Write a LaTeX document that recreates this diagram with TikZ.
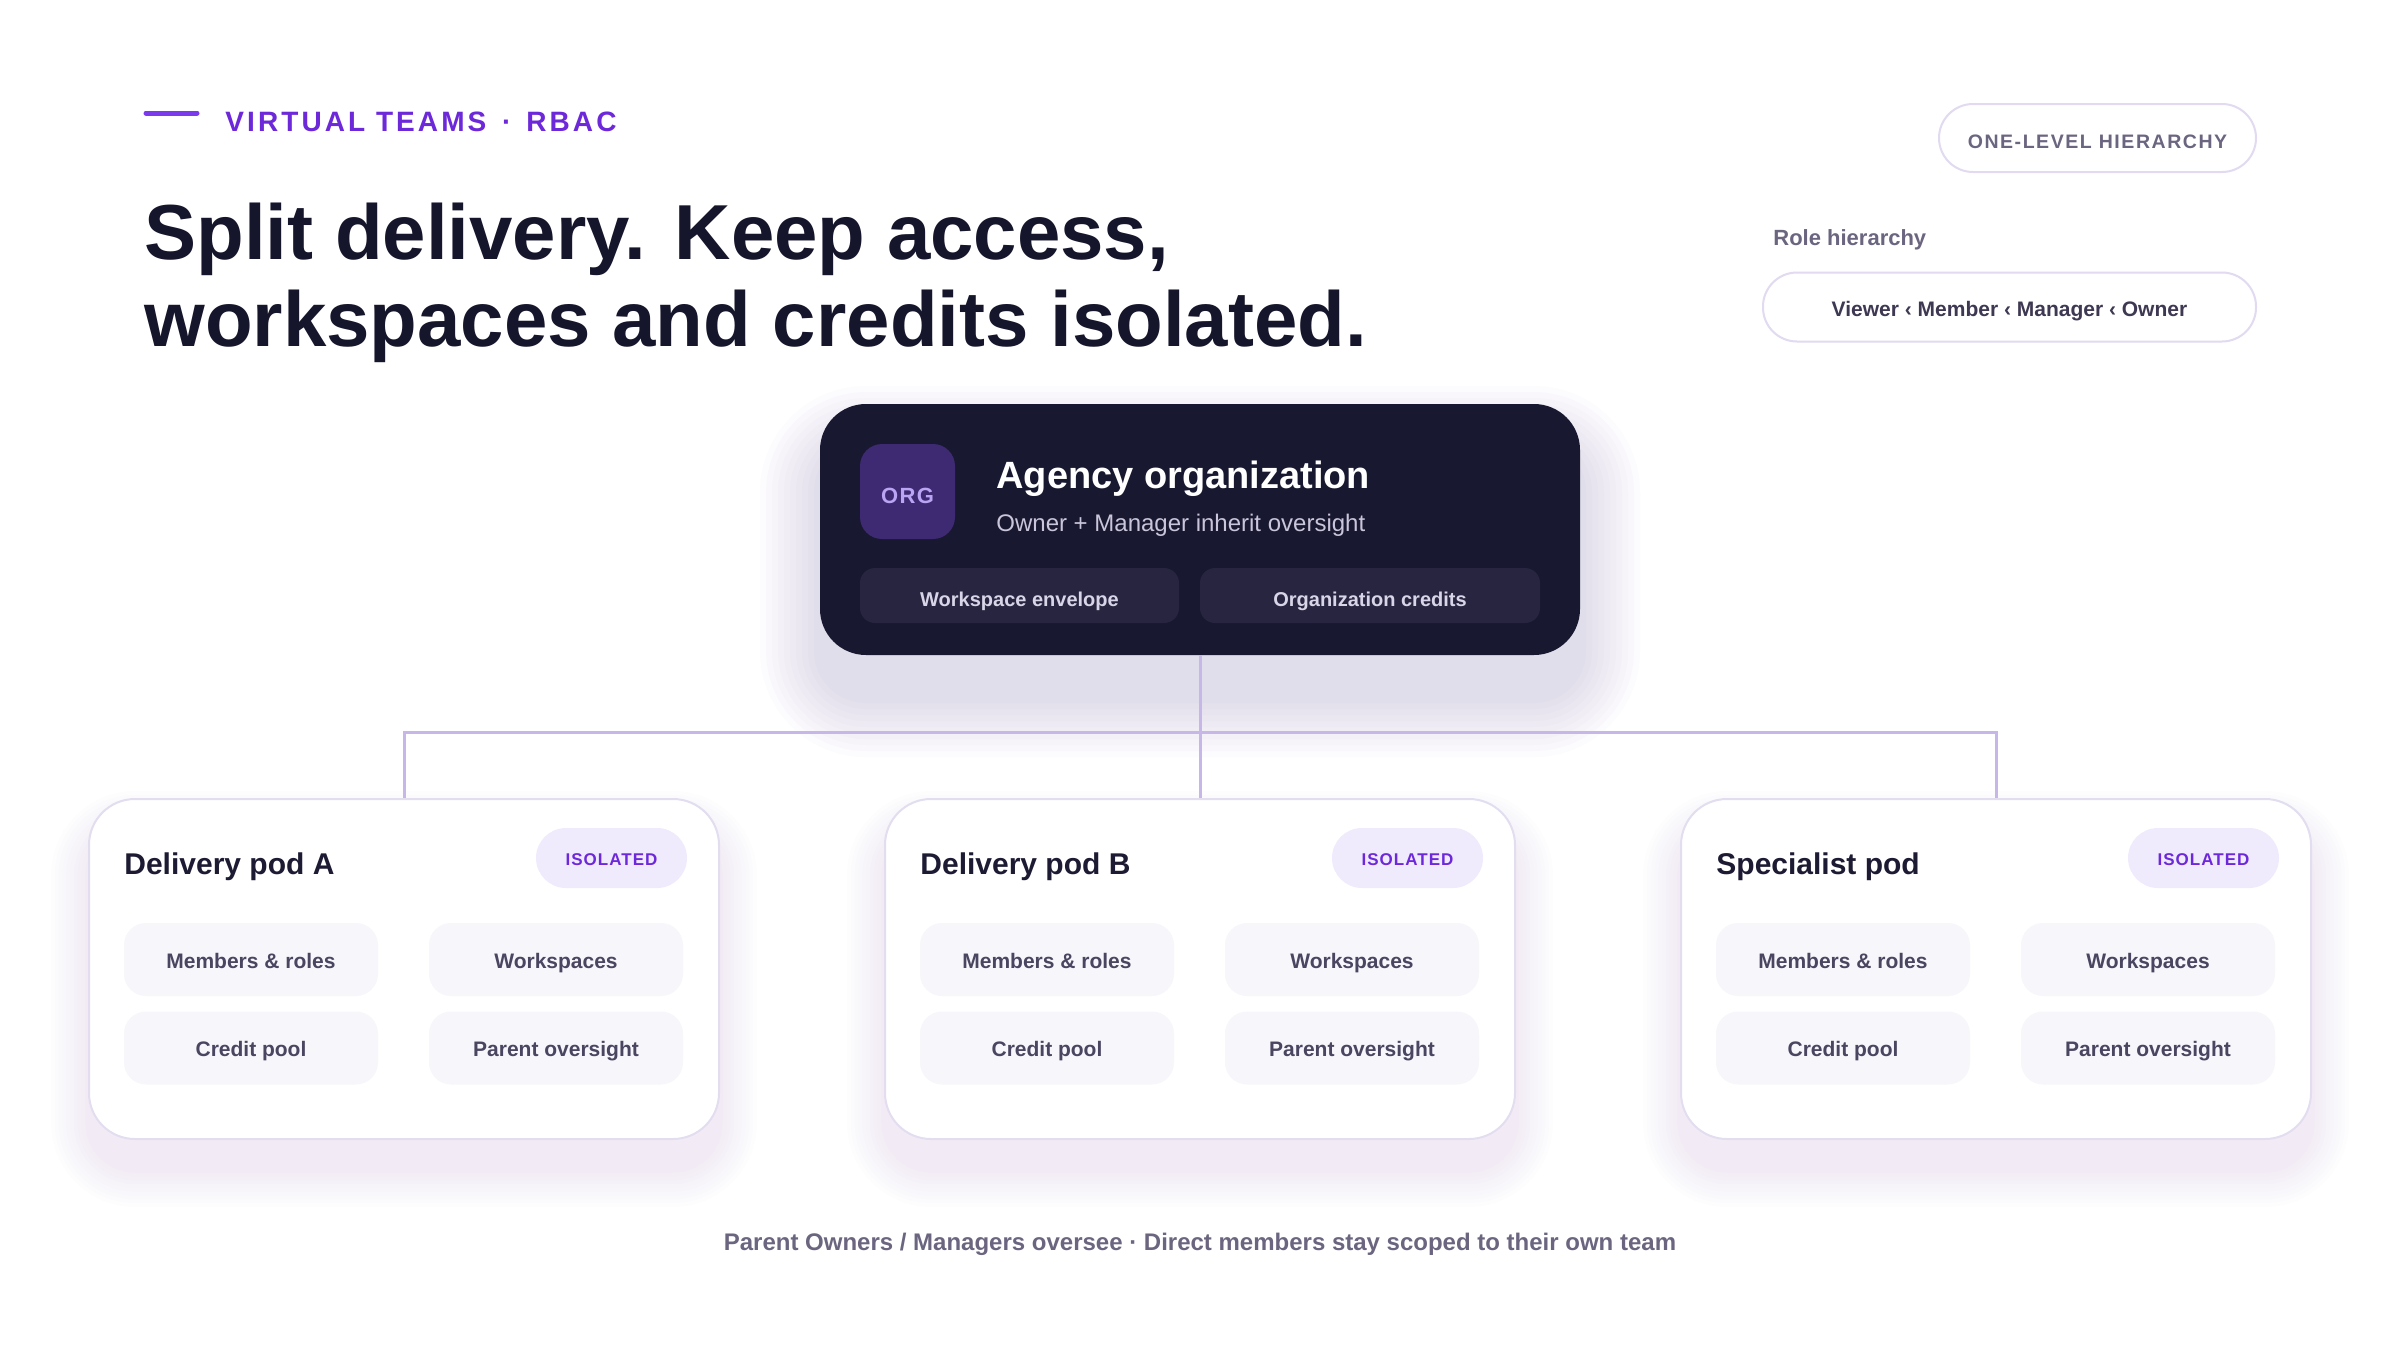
\documentclass[tikz,border=0pt]{standalone}
\usepackage{fontspec}
\setmainfont{Liberation Sans}
\newfontfamily\kickerfont[LetterSpace=11]{Liberation Sans}
\newfontfamily\lsmid[LetterSpace=8]{Liberation Sans}
\newfontfamily\lssmall[LetterSpace=6]{Liberation Sans}
\definecolor{accent}{HTML}{6D28D9}
\definecolor{accentline}{HTML}{7C3AED}
\definecolor{ink}{HTML}{15152B}
\definecolor{muted}{HTML}{6B6580}
\definecolor{pillborder}{HTML}{E1DAF0}
\definecolor{orgbg}{HTML}{181830}
\definecolor{badgebg}{HTML}{3D2A72}
\definecolor{badgetext}{HTML}{B9A5F3}
\definecolor{orgchipbg}{HTML}{282540}
\definecolor{orgchiptext}{HTML}{D9D5E8}
\definecolor{orgsub}{HTML}{C9C5DA}
\definecolor{conn}{HTML}{C6B7E8}
\definecolor{podborder}{HTML}{E3DDF0}
\definecolor{podtitle}{HTML}{1D1B33}
\definecolor{isofill}{HTML}{F0EAFD}
\definecolor{chipfill}{HTML}{F7F6FB}
\definecolor{chiptext}{HTML}{4A4560}
\definecolor{roletext}{HTML}{3E3852}
\definecolor{shadowc}{HTML}{7A5A9E}
\newcommand{\softshadow}[8]{%
  \foreach \k in {1,...,10}{%
    \pgfmathsetmacro\rr{(#5+\k*#7)/2}%
    \fill[shadowc, fill opacity=#8, rounded corners=\rr pt] ({#1-\k*#7},{#2+#6-\k*#7}) rectangle ({#3+\k*#7},{#4+#6+\k*#7});
  }}
\tikzset{
  pod/.style={draw=podborder, line width=1pt, fill=white, rounded corners=23pt, minimum width=315pt, minimum height=170pt, inner sep=0pt},
  podtitle/.style={font=\bfseries\fontsize{15}{18}\selectfont, text=podtitle, inner sep=0pt},
  isopill/.style={fill=isofill, rounded corners=15pt, minimum width=75.5pt, minimum height=30pt, inner sep=0pt, text=accent, font=\lssmall\bfseries\fontsize{8.5}{10}\selectfont, text height=7.6pt, text depth=0pt},
  podchip/.style={fill=chipfill, rounded corners=11pt, minimum width=127pt, minimum height=36.5pt, inner sep=0pt, text=chiptext, font=\bfseries\fontsize{10.5}{12}\selectfont, text height=8.5pt, text depth=0pt},
  orgcard/.style={fill=orgbg, rounded corners=23pt, minimum width=380pt, minimum height=125.5pt, inner sep=0pt},
  badge/.style={fill=badgebg, rounded corners=11pt, minimum width=47.5pt, minimum height=47.5pt, inner sep=0pt, text=badgetext, font=\lssmall\bfseries\fontsize{11}{13}\selectfont, text height=11.5pt, text depth=0pt},
  orgchip/.style={fill=orgchipbg, rounded corners=7.5pt, minimum height=27.5pt, inner sep=0pt, text=orgchiptext, font=\bfseries\fontsize{10}{12}\selectfont, text height=10.5pt, text depth=0pt},
  pill/.style={draw=pillborder, line width=1pt, fill=white, rounded corners=17pt, inner sep=0pt},
  conn/.style={draw=conn, line width=1.5pt},
}
\begin{document}
\begin{tikzpicture}[x=0.5pt,y=-0.5pt]
\useasboundingbox (0,0) rectangle (2400,1350);
\fill[white] (0,0) rectangle (2400,1350);

% header
\draw[accentline, line width=2.5pt, line cap=round] (146,113) -- (197,113);
\node[anchor=base west, inner sep=0pt, text=accent, font=\kickerfont\bfseries\fontsize{14}{16}\selectfont] (kicker) at (225,131) {VIRTUAL TEAMS\ \hspace{2.5pt}·\ \hspace{2pt}RBAC};
\node[anchor=base west, inner sep=0pt, text=ink, font=\bfseries\fontsize{39}{44}\selectfont] (h1) at (144,259) {Split delivery. Keep access,};
\node[anchor=base west, inner sep=0pt, text=ink, font=\bfseries\fontsize{39}{44}\selectfont] (h2) at (144,346) {workspaces and credits isolated.};

\node[pill, minimum width=158.5pt, minimum height=34pt, text=muted, font=\lsmid\bfseries\fontsize{9.75}{12}\selectfont, text height=10pt, text depth=0pt] (lvl) at (2097.5,138) {ONE-LEVEL HIERARCHY};
\node[anchor=base west, inner sep=0pt, text=muted, font=\bfseries\fontsize{11}{13}\selectfont] (rolelbl) at (1773,245) {Role hierarchy};
\node[pill, minimum width=246.5pt, minimum height=34.5pt, text=roletext, font=\bfseries\fontsize{10.5}{12}\selectfont, text height=9.5pt, text depth=0pt] (roles) at (2009.5,307) {Viewer ‹ Member ‹ Manager ‹ Owner};

% org card
\softshadow{820}{404}{1580}{655}{46}{42}{6}{0.02}
\node[orgcard] (org) at (1200,529.5) {};
\node[badge] (badge) at (907.5,491.5) {ORG};
\node[anchor=base west, inner sep=0pt, text=white, font=\bfseries\fontsize{19}{22}\selectfont] (orgtitle) at (996,488) {Agency organization};
\node[anchor=base west, inner sep=0pt, text=orgsub, font=\fontsize{12}{14}\selectfont] (orgsubt) at (996,531) {Owner + Manager inherit oversight};
\node[orgchip, minimum width=159.5pt] (wsenv) at (1019.5,595.5) {Workspace envelope};
\node[orgchip, minimum width=170pt] (orgcred) at (1370,595.5) {Organization credits};

% pods
\foreach \nm/\cx/\ttl in {A/404/Delivery pod A, B/1200/Delivery pod B, C/1996/Specialist pod}{
  \softshadow{\cx-315}{799}{\cx+315}{1139}{46}{30}{3.8}{0.007}
  \node[pod] (pod\nm) at (\cx,969) {};
  \node[podtitle, anchor=base west] (title\nm) at (\cx-280,874) {\ttl};
  \node[isopill] (iso\nm) at (\cx+207.5,858) {ISOLATED};
  \node[podchip] (mem\nm) at (\cx-153,959.5) {Members \& roles};
  \node[podchip] (ws\nm) at (\cx+152,959.5) {Workspaces};
  \node[podchip] (cp\nm) at (\cx-153,1048) {Credit pool};
  \node[podchip] (po\nm) at (\cx+152,1048) {Parent oversight};
}

% connectors
\coordinate (bus) at (1200,732);
\draw[conn] (org.south) -- (podB.north);
\draw[conn] (podA.north) |- (bus) -| (podC.north);

% footer
\node[anchor=base, inner sep=0pt, text=muted, font=\bfseries\fontsize{12}{14}\selectfont] (foot) at (1200,1250) {Parent Owners / Managers oversee · Direct members stay scoped to their own team};
\end{tikzpicture}
\end{document}
